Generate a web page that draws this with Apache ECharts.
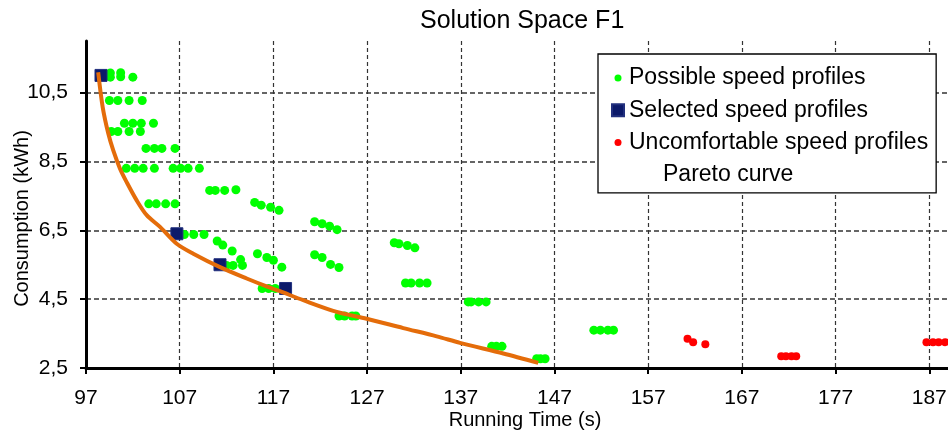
<!DOCTYPE html>
<html>
<head>
<meta charset="utf-8">
<script src="https://cdn.jsdelivr.net/npm/echarts@6/dist/echarts.min.js"></script>
<style>
  html, body { margin: 0; padding: 0; background: #fff; }
  #chart { width: 948px; height: 432px; }
</style>
</head>
<body>
<div id="chart"></div>
<script>
// ---- data (Running Time in s, Consumption in kWh) ----
const xTicks = [97, 107, 117, 127, 137, 147, 157, 167, 177, 187];
const yTicks = [2.5, 4.5, 6.5, 8.5, 10.5];

const possible = [
  [99.6, 11.07], [99.6, 10.95], [100.7, 11.08], [100.7, 10.96], [102.0, 10.95],
  [99.5, 10.27], [100.4, 10.27], [101.6, 10.27], [103.0, 10.27],
  [101.1, 9.61], [102.0, 9.61], [102.9, 9.61], [104.2, 9.61],
  [99.7, 9.37], [100.4, 9.37], [101.6, 9.37], [102.8, 9.37],
  [103.4, 8.88], [104.3, 8.88], [105.1, 8.88], [106.5, 8.88],
  [101.3, 8.30], [102.2, 8.30], [103.1, 8.30], [104.3, 8.30],
  [106.3, 8.30], [107.1, 8.30], [107.9, 8.30], [109.1, 8.30],
  [110.2, 7.66], [110.8, 7.66], [111.8, 7.66], [113.0, 7.68],
  [103.7, 7.27], [104.5, 7.27], [105.5, 7.27], [106.5, 7.27],
  [115.0, 7.31], [115.7, 7.23], [116.7, 7.17], [117.6, 7.08],
  [121.4, 6.75], [122.2, 6.69], [123.0, 6.62], [123.8, 6.52],
  [107.5, 6.38], [108.5, 6.38], [109.6, 6.38],
  [111.0, 6.19], [111.6, 6.07], [112.6, 5.90], [113.5, 5.65],
  [112.0, 5.48], [112.7, 5.48], [113.7, 5.48],
  [115.3, 5.82], [116.3, 5.71], [117.0, 5.63], [117.9, 5.43],
  [121.4, 5.79], [122.2, 5.71], [123.1, 5.51], [124.0, 5.42],
  [129.9, 6.14], [130.4, 6.11], [131.3, 6.06], [132.1, 5.99],
  [131.1, 4.97], [131.7, 4.97], [132.6, 4.97], [133.4, 4.97],
  [115.8, 4.81], [116.5, 4.81], [117.2, 4.81],
  [124.0, 4.01], [124.6, 4.01], [125.4, 4.01], [125.8, 4.01],
  [137.8, 4.42], [138.1, 4.42], [138.9, 4.42], [139.7, 4.42],
  [140.3, 3.13], [140.8, 3.13], [141.4, 3.13],
  [145.1, 2.77], [145.5, 2.77], [146.0, 2.77],
  [151.2, 3.60], [151.9, 3.60], [152.7, 3.60], [153.3, 3.60]
];

const selected = [
  [98.6, 11.0], [106.7, 6.40], [111.3, 5.50], [118.3, 4.81]
];

const uncomfortable = [
  [161.2, 3.35], [161.8, 3.25], [163.1, 3.19],
  [171.2, 2.84], [171.7, 2.84], [172.3, 2.84], [172.8, 2.84],
  [186.7, 3.25], [187.4, 3.25], [188.0, 3.25], [188.7, 3.25]
];

const pareto = [
  [98.3, 11.09], [98.78, 10.08], [99.38, 9.31], [99.91, 8.82], [100.63, 8.29],
  [101.34, 7.90], [102.41, 7.37], [103.48, 6.94], [104.9, 6.60], [106.68, 6.11],
  [108.45, 5.82], [111.3, 5.43], [114.15, 5.10], [116.28, 4.87], [117.7, 4.73],
  [120.19, 4.47], [123.76, 4.13], [126.96, 3.93], [130.86, 3.66], [134.43, 3.42],
  [136.91, 3.23], [141.54, 2.92], [145.27, 2.65]
];

// ---- chart ----
const FONT = "'Liberation Sans', Arial, sans-serif";
const chart = echarts.init(document.getElementById('chart'), null, { renderer: 'canvas' });
const dotIcon = 'path://M0,0 M12,12 M6,2.5 A3.5,3.5 0 1 1 6,9.5 A3.5,3.5 0 1 1 6,2.5 Z';
const fmt = v => String(v).replace('.', ',');

chart.setOption({
  animation: false,
  backgroundColor: '#ffffff',
  textStyle: { fontFamily: FONT },
  title: {
    text: 'Solution Space F1',
    left: 415, top: 4,
    textStyle: { fontFamily: FONT, fontSize: 25, fontWeight: 'normal', color: '#000' }
  },
  grid: { left: 86, right: 0, top: 41, bottom: 64, containLabel: false, outerBoundsMode: 'none' },
  legend: {
    orient: 'vertical',
    left: 598, top: 54,
    padding: [12, 8, 6, 13],
    itemGap: 8.3,
    itemWidth: 12, itemHeight: 12,
    borderColor: '#000', borderWidth: 1.3,
    backgroundColor: '#fff',
    textStyle: { fontFamily: FONT, fontSize: 23, color: '#000', lineHeight: 24 },
    data: [
      { name: 'Possible speed profiles', icon: dotIcon },
      { name: 'Selected speed profiles', icon: 'rect' },
      { name: 'Uncomfortable speed profiles', icon: dotIcon },
      { name: 'Pareto curve', icon: 'rect',
        itemStyle: { color: 'rgba(0,0,0,0)', borderWidth: 0 },
        lineStyle: { opacity: 0 },
        textStyle: { padding: [0, 0, 0, 34] } }
    ]
  },
  xAxis: {
    type: 'value', min: 97, max: 189,
    name: 'Running Time (s)', nameLocation: 'middle', nameGap: 42, nameMoveOverlap: false,
    nameTextStyle: { fontFamily: FONT, fontSize: 20, color: '#000', padding: [0, 0, 0, 16] },
    axisLine: { onZero: false, lineStyle: { color: '#000', width: 3 } },
    axisTick: { show: true, customValues: xTicks, length: 6, lineStyle: { color: '#000', width: 2 } },
    axisLabel: { customValues: xTicks, margin: 20, fontFamily: FONT, fontSize: 21, color: '#000' },
    splitLine: { show: true, lineStyle: { color: '#333', width: 1.2, type: [4, 3] } }
  },
  yAxis: {
    type: 'value', min: 2.5, max: 12,
    name: 'Consumption (kWh)', nameLocation: 'middle', nameGap: 54, nameRotate: 90, nameMoveOverlap: false,
    nameTextStyle: { fontFamily: FONT, fontSize: 20, color: '#000', padding: [0, 28, 0, 0] },
    axisLine: { show: true, onZero: false, lineStyle: { color: '#000', width: 3 } },
    axisTick: { show: true, customValues: yTicks, length: 6, lineStyle: { color: '#000', width: 2 } },
    axisLabel: { customValues: yTicks, margin: 18, formatter: fmt, fontFamily: FONT, fontSize: 21, color: '#000' },
    splitLine: { show: true, lineStyle: { color: '#333', width: 1.5, type: [5, 3] } }
  },
  series: [
    {
      name: 'Possible speed profiles', type: 'scatter', data: possible,
      symbol: 'circle', symbolSize: 9,
      itemStyle: { color: '#00ff00', opacity: 1 }
    },
    {
      name: 'Selected speed profiles', type: 'scatter', data: selected,
      symbol: 'rect', symbolSize: 12,
      itemStyle: { color: '#0c1a6a', borderColor: '#22307e', borderWidth: 1, opacity: 1 }
    },
    {
      name: 'Uncomfortable speed profiles', type: 'scatter', data: uncomfortable,
      symbol: 'circle', symbolSize: 8,
      itemStyle: { color: '#ff0000', opacity: 1 }
    },
    {
      name: 'Pareto curve', type: 'line', data: pareto,
      smooth: 0.3, symbol: 'none', showSymbol: false,
      lineStyle: { color: '#e46c0a', width: 4 },
      itemStyle: { color: '#e46c0a' }
    }
  ]
});
</script>
</body>
</html>
